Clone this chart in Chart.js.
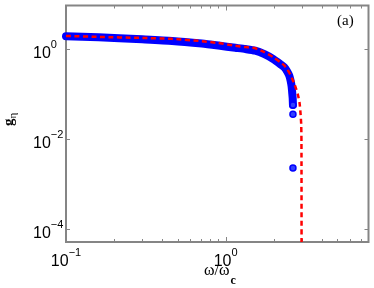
<!DOCTYPE html>
<html>
<head>
<meta charset="utf-8">
<script src="https://cdn.jsdelivr.net/npm/chart.js@4"></script>
<style>
  body { margin: 0; background: #fff; }
</style>
</head>
<body>
<canvas id="gChart" width="374" height="288"></canvas>
<script>
// blue circles (numerical), dense enough to read as a band
const blueX = [0.1, 0.16, 0.216, 0.3, 0.462, 0.71, 0.9, 1.15, 1.33, 1.53, 1.75, 1.99, 2.2, 2.33, 2.43, 2.5, 2.55, 2.59, 2.61, 2.63, 2.64];
const blueY = [1.97, 1.86, 1.77, 1.68, 1.55, 1.35, 1.22, 1.09, 1.02, 0.94, 0.785, 0.61, 0.47, 0.40, 0.324, 0.264, 0.205, 0.151, 0.112, 0.082, 0.058];
// the few isolated circles at the end
const dotX = [2.64, 2.64, 2.64];
const dotY = [0.058, 0.036, 0.0023];
// red dashed (analytic)
const redX = [0.1, 0.163, 0.288, 0.462, 0.71, 0.9, 1.15, 1.33, 1.53, 1.75, 1.99, 2.2, 2.33, 2.43, 2.54, 2.63, 2.70, 2.77, 2.84, 2.90, 2.94, 2.973, 2.985, 2.99];
const redY = [2.0, 1.9, 1.81, 1.72, 1.53, 1.39, 1.21, 1.13, 1.06, 0.87, 0.67, 0.52, 0.44, 0.36, 0.278, 0.21, 0.168, 0.130, 0.096, 0.067, 0.041, 0.022, 0.0089, 0.00001];

const xMajor = [0.1, 1];
const xMajorLabels = [['10', '\u22121'], ['10', '0']];
const xMinor = [0.2, 0.3, 0.4, 0.5, 0.6, 0.7, 0.8, 0.9, 2, 3, 4, 5, 6, 7];
const yMajor = [1, 0.01, 0.0001];
const yMajorLabels = [['10', '0'], ['10', '\u22122'], ['10', '\u22124']];

const pts = (xs, ys) => xs.map((v, i) => ({ x: v, y: ys[i] }));

const axisGray = '#858585';

function drawPow(ctx, parts, x, baseY, expY) {
  ctx.font = '16px "Liberation Sans", Arial, sans-serif';
  const wb = ctx.measureText(parts[0]).width;
  ctx.fillText(parts[0], x, baseY);
  ctx.font = '11px "Liberation Sans", Arial, sans-serif';
  ctx.fillText(parts[1], x + wb, expY);
}

function powWidth(ctx, parts) {
  ctx.font = '16px "Liberation Sans", Arial, sans-serif';
  const wb = ctx.measureText(parts[0]).width;
  ctx.font = '11px "Liberation Sans", Arial, sans-serif';
  return wb + ctx.measureText(parts[1]).width;
}

const matlabAxes = {
  id: 'matlabAxes',
  beforeDatasetsDraw(chart) {
    const { ctx, chartArea: a, scales: { x, y } } = chart;
    ctx.save();
    ctx.strokeStyle = axisGray;
    ctx.lineWidth = 1;
    ctx.beginPath();
    xMinor.forEach(v => {
      const px = Math.round(x.getPixelForValue(v)) + 0.5;
      ctx.moveTo(px, a.bottom); ctx.lineTo(px, a.bottom - 3);
      ctx.moveTo(px, a.top); ctx.lineTo(px, a.top + 3);
    });
    xMajor.forEach(v => {
      const px = Math.round(x.getPixelForValue(v)) + 0.5;
      ctx.moveTo(px, a.bottom); ctx.lineTo(px, a.bottom - 5);
      ctx.moveTo(px, a.top); ctx.lineTo(px, a.top + 5);
    });
    yMajor.forEach(v => {
      const py = Math.round(y.getPixelForValue(v)) + 0.5;
      ctx.moveTo(a.left, py); ctx.lineTo(a.left + 4, py);
      ctx.moveTo(a.right, py); ctx.lineTo(a.right - 4, py);
    });
    ctx.stroke();
    ctx.lineWidth = 2;
    ctx.strokeRect(a.left, a.top, a.right - a.left, a.bottom - a.top);
    ctx.restore();
  },
  afterDraw(chart) {
    const { ctx, chartArea: a, scales: { x, y } } = chart;
    ctx.save();
    ctx.fillStyle = '#000';
    ctx.textBaseline = 'alphabetic';
    ctx.textAlign = 'left';

    // x tick labels, centred under the tick
    xMajor.forEach((v, i) => {
      const px = x.getPixelForValue(v);
      const w = powWidth(ctx, xMajorLabels[i]);
      drawPow(ctx, xMajorLabels[i], px - w / 2, a.bottom + 24, a.bottom + 14);
    });

    // y tick labels
    yMajor.forEach((v, i) => {
      const py = y.getPixelForValue(v);
      drawPow(ctx, yMajorLabels[i], 33, py + 8.5, py - 1.5);
    });

    // x title  ω/ω_c
    ctx.font = '16px "Liberation Serif", "Times New Roman", serif';
    ctx.fillText('\u03c9/\u03c9', 204, 275);
    const wt = ctx.measureText('\u03c9/\u03c9').width;
    ctx.font = 'bold 12px "Liberation Serif", "Times New Roman", serif';
    ctx.fillText('c', 204 + wt + 1, 284);

    // y title  g_η
    ctx.save();
    ctx.translate(13, 126);
    ctx.rotate(-Math.PI / 2);
    ctx.font = 'bold 15px "Liberation Serif", "Times New Roman", serif';
    ctx.fillText('g', 0, 0);
    const wg = ctx.measureText('g').width;
    ctx.font = '11px "Liberation Serif", "Times New Roman", serif';
    ctx.fillText('\u03b7', wg, 3);
    ctx.restore();

    // panel label
    ctx.font = '15px "Liberation Serif", "Times New Roman", serif';
    ctx.fillText('(a)', 337, 25);
    ctx.restore();
  }
};

new Chart(document.getElementById('gChart').getContext('2d'), {
  type: 'scatter',
  data: {
    datasets: [
      {
        // red dashed on top
        data: pts(redX, redY),
        showLine: true,
        borderColor: '#ff0000',
        borderWidth: 2.5,
        borderDash: [5, 3.5],
        tension: 0.2,
        pointRadius: 0,
        fill: false
      },
      {
        data: pts(dotX, dotY),
        showLine: false,
        pointRadius: 3,
        pointBorderWidth: 1.5,
        pointBackgroundColor: '#3040ff',
        pointBorderColor: '#0000ff'
      },
      {
        data: pts(blueX, blueY),
        showLine: true,
        borderColor: '#0000ff',
        borderWidth: 8,
        borderCapStyle: 'round',
        borderJoinStyle: 'round',
        tension: 0.2,
        pointRadius: 0,
        fill: false,
        clip: { left: 4, top: 0, right: 0, bottom: 0 }
      }
    ]
  },
  options: {
    responsive: false,
    animation: false,
    devicePixelRatio: 1,
    layout: { padding: { left: 66, right: 3, top: 2, bottom: 46 } },
    plugins: { legend: { display: false }, tooltip: { enabled: false } },
    scales: {
      x: { type: 'logarithmic', min: 0.1, max: 7.85, display: false },
      y: { type: 'logarithmic', min: 5.2e-5, max: 9.5, display: false }
    }
  },
  plugins: [matlabAxes]
});
</script>
</body>
</html>
